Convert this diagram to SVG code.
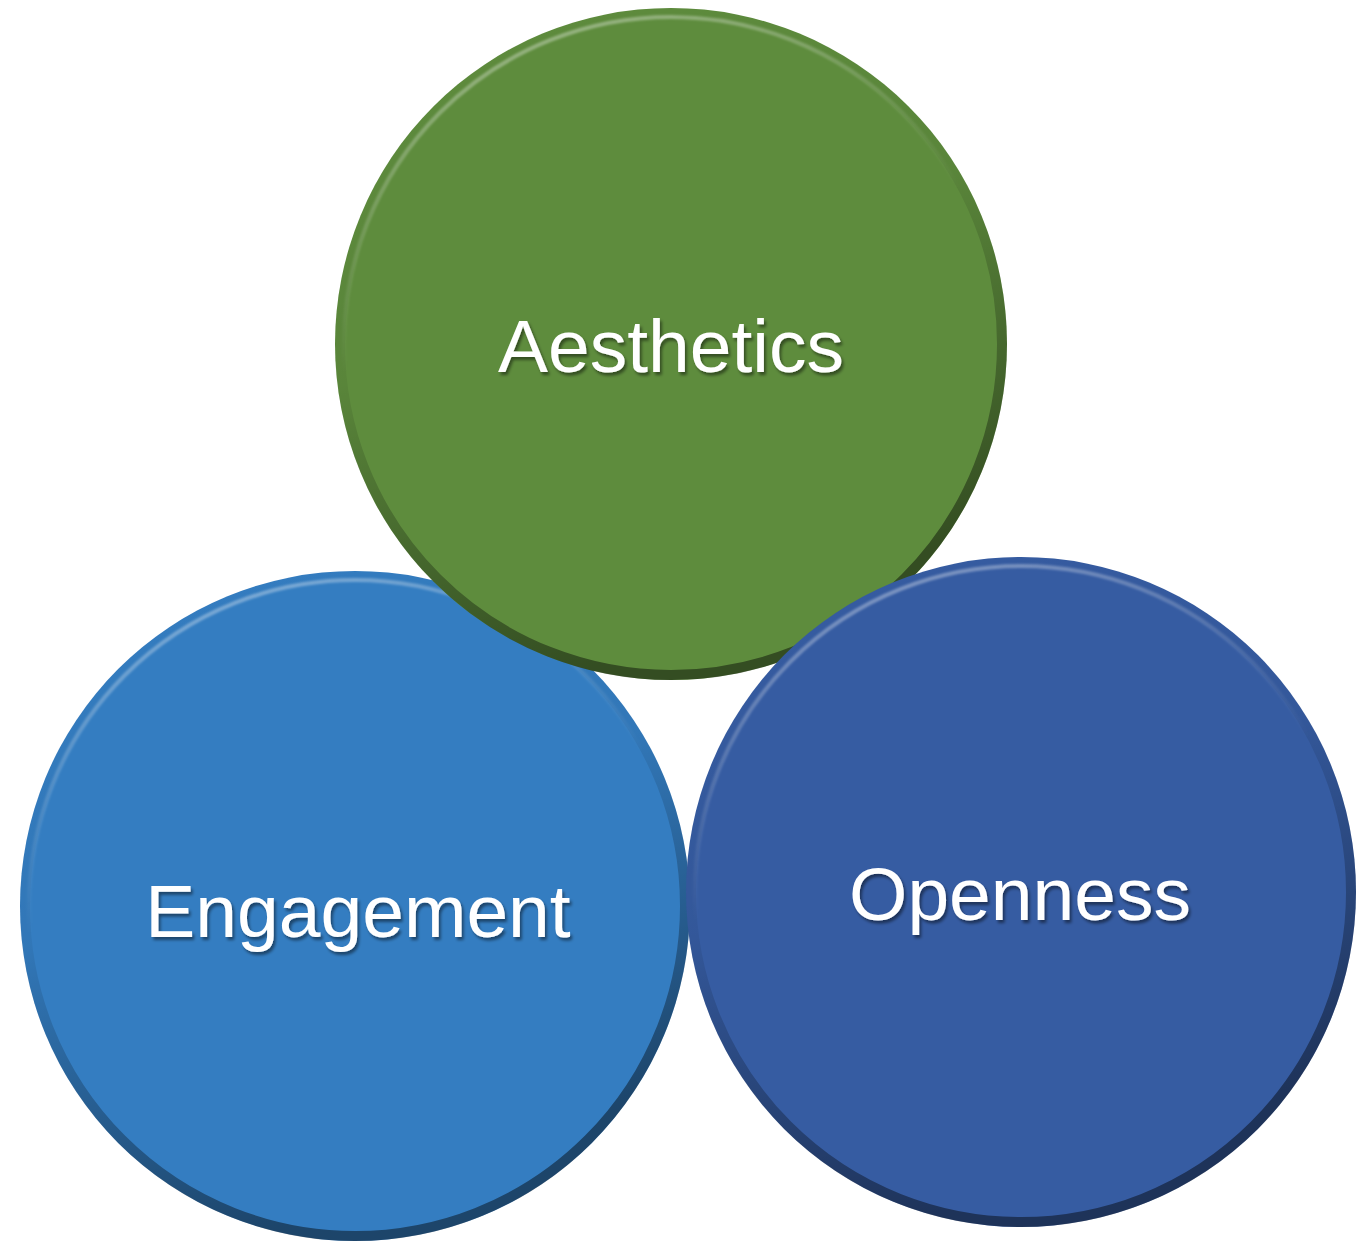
<svg xmlns="http://www.w3.org/2000/svg" width="1371" height="1242" viewBox="0 0 1371 1242">
<defs>
<linearGradient id="rim" x1="0" y1="0" x2="0.35" y2="1">
<stop offset="0" stop-color="#000" stop-opacity="0"/>
<stop offset="0.5" stop-color="#000" stop-opacity="0.05"/>
<stop offset="1" stop-color="#000" stop-opacity="0.45"/>
</linearGradient>
<linearGradient id="hl" x1="0" y1="0" x2="0.3" y2="1">
<stop offset="0" stop-color="#fff" stop-opacity="0.45"/>
<stop offset="0.35" stop-color="#fff" stop-opacity="0.12"/>
<stop offset="0.5" stop-color="#fff" stop-opacity="0"/>
</linearGradient>
<filter id="ts" x="-10%" y="-20%" width="120%" height="150%">
<feDropShadow dx="2" dy="3" stdDeviation="1.5" flood-color="#000" flood-opacity="0.45"/>
</filter>
<filter id="soft"><feGaussianBlur stdDeviation="1"/></filter>
</defs>
<style>
.lbl{font-family:"Liberation Sans",Arial,sans-serif;font-size:75px;fill:#fff;text-anchor:middle;filter:url(#ts)}
.rim{fill:none;stroke:url(#rim);stroke-width:10}
.hl{fill:none;stroke:url(#hl);stroke-width:4;filter:url(#soft)}
</style>
<g id="engagement">
<circle cx="355" cy="906" r="335" fill="#347DC1"/>
<circle cx="355" cy="906" r="330" class="rim"/>
<circle cx="355" cy="906" r="326" class="hl"/>
<text class="lbl" x="358" y="937">Engagement</text>
</g>
<g id="aesthetics">
<circle cx="671" cy="344" r="336" fill="#5E8C3D"/>
<circle cx="671" cy="344" r="331" class="rim"/>
<circle cx="671" cy="344" r="327" class="hl"/>
<text class="lbl" x="671" y="372">Aesthetics</text>
</g>
<g id="openness">
<circle cx="1021" cy="892" r="335" fill="#365CA2"/>
<circle cx="1021" cy="892" r="330" class="rim"/>
<circle cx="1021" cy="892" r="326" class="hl"/>
<text class="lbl" x="1020" y="920">Openness</text>
</g>
<g id="connectors"/>
</svg>
